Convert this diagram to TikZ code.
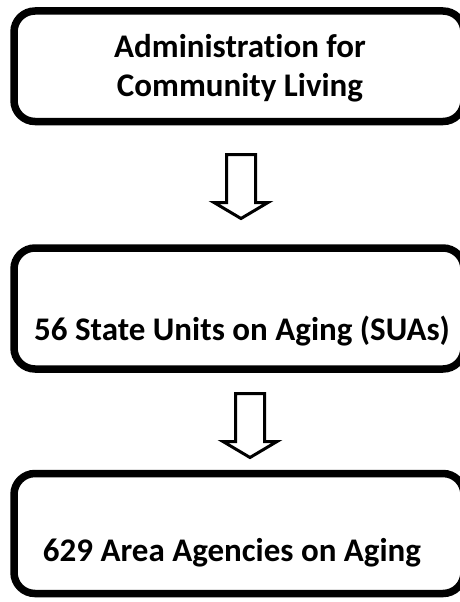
\documentclass[tikz,border=0pt]{standalone}
\usepackage{fontspec}
\setmainfont[Ligatures=NoCommon]{Carlito}
\begin{document}
\begin{tikzpicture}[x=1pt,y=1pt,
  box/.style={draw=black, line width=7.5pt, rounded corners=21pt, inner sep=0pt, outer sep=0pt},
  lbl/.style={font=\bfseries\fontsize{33}{39}\selectfont, align=center, inner sep=0pt},
  blk/.style={draw=black, line width=3pt, line join=miter, fill=white},
  blockdown/.pic={\draw[blk] (-14.5,0) -- (14.5,0) -- (14.5,-48) -- (27,-48) -- (0,-64) -- (-27,-48) -- (-14.5,-48) -- cycle;}]
\useasboundingbox (0,0) rectangle (460,-602);
\clip (0,0) rectangle (460,-602);
\node[box, minimum width=450pt, minimum height=110.5pt] (b1) at (239,-66.25) {};
\node[box, minimum width=450pt, minimum height=121pt] (b2) at (239,-308.5) {};
\node[box, minimum width=450pt, minimum height=120pt] (b3) at (239,-533.5) {};
\node[lbl] (t1) at (240,-68) {Administration for\\Community Living};
\node[lbl, anchor=base] (t2) at (242,-340) {56 State Units on Aging (SUAs)};
\node[lbl, anchor=base] (t3) at (232,-561) {629 Area Agencies on Aging};
\coordinate (a1) at (241,-154.5);
\coordinate (a2) at (250,-393.5);
\pic at (a1) {blockdown};
\pic at (a2) {blockdown};
\end{tikzpicture}
\end{document}
